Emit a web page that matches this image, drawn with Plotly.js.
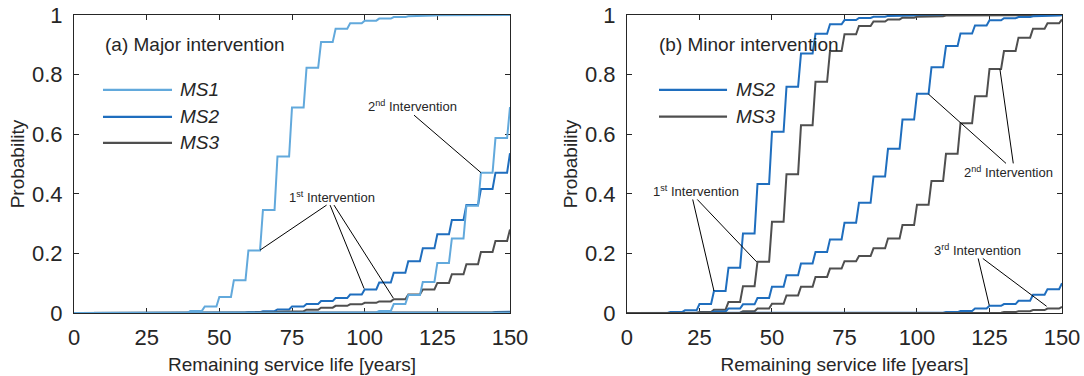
<!DOCTYPE html>
<html>
<head>
<meta charset="utf-8">
<script src="https://cdn.plot.ly/plotly-3.0.1.min.js"></script>
<style>html,body{margin:0;padding:0;background:#fff;}#chart{width:1084px;height:376px;}</style>
</head>
<body>
<div id="chart"></div>
<script>
// Years at which each 5-year level starts
const YEARS = [0,5,10,15,20,25,30,35,40,45,50,55,60,65,70,75,80,85,90,95,100,105,110,115,120,125,130,135,140,145,150];

// (a) Major intervention
const A_MS1_1 = [0,0,0,0,0,0,0,0,0.007,0.022,0.054,0.11,0.21,0.346,0.525,0.69,0.823,0.909,0.954,0.972,0.981,0.988,0.993,0.996,0.998,0.999,1,1,1,1,1];
const A_MS1_2 = [0,0,0,0,0,0,0,0,0,0,0,0,0,0,0,0,0,0,0,0.0005,0.002,0.007,0.03,0.06,0.104,0.168,0.25,0.36,0.471,0.587,0.691];
const A_MS1_3 = [0,0,0,0,0,0,0,0,0,0,0,0,0,0,0,0,0,0,0,0,0,0,0,0,0,0,0,0,0,0.0005,0.001];
const A_MS2_1 = [0,0,0,0,0,0,0,0,0,0,0,0.001,0.003,0.006,0.012,0.022,0.03,0.04,0.05,0.062,0.079,0.102,0.135,0.174,0.217,0.264,0.312,0.362,0.416,0.471,0.536];
const A_MS2_2 = [0,0,0,0,0,0,0,0,0,0,0,0,0,0,0,0,0,0,0,0,0,0,0,0,0,0.0005,0.001,0.001,0.002,0.003,0.004];
const A_MS3_1 = [0,0,0,0,0,0,0,0,0,0,0,0,0.001,0.002,0.004,0.006,0.011,0.018,0.024,0.029,0.034,0.039,0.046,0.062,0.079,0.101,0.13,0.164,0.205,0.242,0.28];
const A_MS3_2 = [0,0,0,0,0,0,0,0,0,0,0,0,0,0,0,0,0,0,0,0,0,0,0,0,0,0,0,0.0005,0.001,0.001,0.002];

// (b) Minor intervention
const B_MS2_1 = [0,0,0,0.003,0.009,0.03,0.074,0.152,0.267,0.433,0.608,0.759,0.871,0.937,0.969,0.983,0.99,0.994,0.997,0.998,0.999,1,1,1,1,1,1,1,1,1,1];
const B_MS2_2 = [0,0,0,0,0,0.001,0.005,0.015,0.029,0.05,0.088,0.127,0.166,0.205,0.247,0.303,0.37,0.458,0.551,0.649,0.736,0.825,0.896,0.938,0.965,0.982,0.989,0.993,0.996,0.998,0.999];
const B_MS2_3 = [0,0,0,0,0,0,0,0,0,0,0,0,0,0,0,0,0,0,0,0,0,0.001,0.003,0.007,0.015,0.024,0.03,0.041,0.061,0.08,0.1];
const B_MS3_1 = [0,0,0,0,0.001,0.003,0.011,0.037,0.09,0.172,0.306,0.466,0.63,0.776,0.879,0.935,0.963,0.978,0.985,0.991,0.994,0.996,0.998,0.999,1,1,1,1,1,1,1];
const B_MS3_2 = [0,0,0,0,0,0,0,0.001,0.006,0.015,0.031,0.059,0.088,0.121,0.149,0.174,0.191,0.217,0.25,0.295,0.363,0.443,0.534,0.637,0.727,0.819,0.879,0.924,0.954,0.972,0.985];
const B_MS3_3 = [0,0,0,0,0,0,0,0,0,0,0,0,0,0,0,0,0,0,0,0,0,0,0,0,0,0.001,0.003,0.006,0.01,0.015,0.021];

const X_TICKS = [0,25,50,75,100,125,150];
const Y_TICKS = [0,0.2,0.4,0.6,0.8,1];
const Y_TICK_TEXT = ['0','0.2','0.4','0.6','0.8','1'];

const C1 = '#62a9dc', C2 = '#1f6ebe', C3 = '#4f4f4f';
const INK = '#262626';
const FONT = 'Liberation Sans, Arial, Helvetica, sans-serif';

// Each level holds for 4 years, then ramps over 1 year to the next level
function stepXY(vals) {
  const x = [YEARS[0]], y = [vals[0]];
  for (let k = 1; k < vals.length; k++) {
    x.push(YEARS[k] - 1); y.push(vals[k - 1]);
    x.push(YEARS[k]); y.push(vals[k]);
  }
  return {x, y};
}
function tr(vals, color, xa, ya, name) {
  const s = stepXY(vals);
  return {x: s.x, y: s.y, type: 'scatter', mode: 'lines', name: name,
    xaxis: xa, yaxis: ya, showlegend: false, line: {color: color, width: 2}, hoverinfo: 'skip'};
}

const data = [
  tr(A_MS2_1, C2, 'x', 'y', 'MS2'),
  tr(A_MS3_1, C3, 'x', 'y', 'MS3'),
  tr(A_MS2_2, C2, 'x', 'y', 'MS2'),
  tr(A_MS3_2, C3, 'x', 'y', 'MS3'),
  tr(A_MS1_1, C1, 'x', 'y', 'MS1'),
  tr(A_MS1_2, C1, 'x', 'y', 'MS1'),
  tr(A_MS1_3, C1, 'x', 'y', 'MS1'),
  tr(B_MS2_1, C2, 'x2', 'y2', 'MS2'),
  tr(B_MS3_1, C3, 'x2', 'y2', 'MS3'),
  tr(B_MS2_2, C2, 'x2', 'y2', 'MS2'),
  tr(B_MS3_2, C3, 'x2', 'y2', 'MS3'),
  tr(B_MS2_3, C2, 'x2', 'y2', 'MS2'),
  tr(B_MS3_3, C3, 'x2', 'y2', 'MS3')
];

function xax(domain, anchor) {
  return {domain: domain, anchor: anchor, range: [0, 150], tickvals: X_TICKS, ticktext: X_TICKS.map(String),
    ticks: 'inside', ticklen: 5, tickwidth: 1, tickcolor: INK, showline: true, linecolor: INK, linewidth: 1,
    mirror: 'allticks', showgrid: false, zeroline: false, layer: 'below traces',
    tickfont: {family: FONT, size: 22, color: INK}, ticklabelstandoff: 5,
    title: {text: 'Remaining service life [years]', font: {family: FONT, size: 19, color: INK}, standoff: 8}};
}
function yax(anchor) {
  return {domain: [0, 1], anchor: anchor, range: [0, 1], tickvals: Y_TICKS, ticktext: Y_TICK_TEXT,
    ticks: 'inside', ticklen: 5, tickwidth: 1, tickcolor: INK, showline: true, linecolor: INK, linewidth: 1,
    mirror: 'allticks', showgrid: false, zeroline: false, layer: 'below traces',
    tickfont: {family: FONT, size: 22, color: INK}, ticklabelstandoff: 6,
    title: {text: 'Probability', font: {family: FONT, size: 19, color: INK}, standoff: 2}};
}

function seg(xref, yref, x0, y0, x1, y1) {
  return {type: 'line', xref: xref, yref: yref, x0: x0, y0: y0, x1: x1, y1: y1, line: {color: '#000', width: 1}};
}
function legLine(xref, yref, x0, x1, y, color) {
  return {type: 'line', xref: xref, yref: yref, x0: x0, x1: x1, y0: y, y1: y, line: {color: color, width: 2.2}};
}
function txt(xref, yref, x, y, text, size, xanchor) {
  return {xref: xref, yref: yref, x: x, y: y, text: text, showarrow: false, xanchor: xanchor || 'center', yanchor: 'middle',
    font: {family: FONT, size: size, color: INK}};
}

const shapes = [
  // legend samples (a)
  legLine('x domain', 'y domain', 0.0665, 0.2248, 0.749, C1),
  legLine('x domain', 'y domain', 0.0665, 0.2248, 0.658, C2),
  legLine('x domain', 'y domain', 0.0665, 0.2248, 0.571, C3),
  // legend samples (b)
  legLine('x2 domain', 'y2 domain', 0.0736, 0.23, 0.749, C2),
  legLine('x2 domain', 'y2 domain', 0.0736, 0.23, 0.659, C3),
  // callout lines (a)
  seg('x', 'y', 116.97, 0.664, 140.0, 0.471),
  seg('x', 'y', 86.9, 0.362, 64.0, 0.211),
  seg('x', 'y', 88.1, 0.362, 99.8, 0.082),
  seg('x', 'y', 89.45, 0.362, 109.85, 0.050),
  // callout lines (b)
  seg('x2', 'y2', 22.66, 0.381, 30.0, 0.074),
  seg('x2', 'y2', 24.24, 0.381, 44.72, 0.1715),
  seg('x2', 'y2', 130.7, 0.502, 103.9, 0.735),
  seg('x2', 'y2', 133.2, 0.502, 128.6, 0.818),
  seg('x2', 'y2', 121.1, 0.183, 124.9, 0.026),
  seg('x2', 'y2', 122.7, 0.183, 144.7, 0.0225)
];

const annotations = [
  txt('x domain', 'y domain', 0.067, 0.90, '(a) Major intervention', 19, 'left'),
  txt('x domain', 'y domain', 0.2385, 0.749, '<i>MS1</i>', 19, 'left'),
  txt('x domain', 'y domain', 0.2385, 0.658, '<i>MS2</i>', 19, 'left'),
  txt('x domain', 'y domain', 0.2385, 0.571, '<i>MS3</i>', 19, 'left'),
  txt('x2 domain', 'y2 domain', 0.068, 0.90, '(b) Minor intervention', 19, 'left'),
  txt('x2 domain', 'y2 domain', 0.246, 0.749, '<i>MS2</i>', 19, 'left'),
  txt('x2 domain', 'y2 domain', 0.246, 0.659, '<i>MS3</i>', 19, 'left'),
  txt('x', 'y', 116.6, 0.695, '2<sup>nd</sup> Intervention', 13),
  txt('x', 'y', 88.8, 0.389, '1<sup>st</sup> Intervention', 13),
  txt('x2', 'y2', 23.8, 0.41, '1<sup>st</sup> Intervention', 13),
  txt('x2', 'y2', 131.4, 0.474, '2<sup>nd</sup> Intervention', 13),
  txt('x2', 'y2', 121.0, 0.213, '3<sup>rd</sup> Intervention', 13)
];

const layout = {
  width: 1084, height: 376,
  margin: {l: 74, r: 22, t: 15, b: 63, pad: 0},
  paper_bgcolor: '#fff', plot_bgcolor: '#fff',
  showlegend: false,
  font: {family: FONT, color: INK},
  xaxis: xax([0, 0.4413], 'y'),
  yaxis: yax('x'),
  xaxis2: xax([0.5597, 1], 'y2'),
  yaxis2: yax('x2'),
  shapes: shapes,
  annotations: annotations
};

Plotly.newPlot('chart', data, layout, {displayModeBar: false, staticPlot: true});
</script>
</body>
</html>
